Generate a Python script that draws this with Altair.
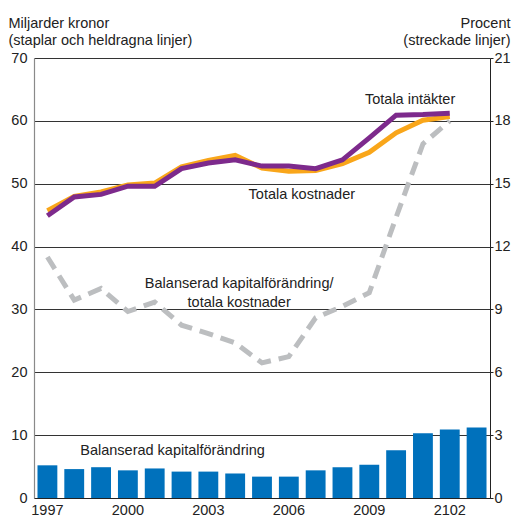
import altair as alt
import pandas as pd

years = [str(y) for y in range(1997, 2014)]
kapital = [5.2, 4.6, 4.9, 4.4, 4.7, 4.2, 4.2, 3.9, 3.4, 3.4, 4.4, 4.9, 5.3, 7.6, 10.3, 10.9, 11.2]

line_years = years[:16]
intakter = [44.9, 47.9, 48.3, 49.6, 49.6, 52.4, 53.3, 53.8, 52.8, 52.8, 52.4, 53.8, 57.3, 60.9, 61.0, 61.2]
kostnader = [45.7, 48.0, 48.7, 49.8, 50.1, 52.7, 53.7, 54.5, 52.5, 52.0, 52.1, 53.2, 55.0, 58.1, 60.1, 60.7]
andel = [11.5, 9.45, 10.0, 8.9, 9.35, 8.25, 7.85, 7.4, 6.45, 6.75, 8.6, 9.15, 9.8, 13.4, 16.9, 18.0]

tick_years = ["1997", "2000", "2003", "2006", "2009", "2012"]
tick_texts = ["1997", "2000", "2003", "2006", "2009", "2102"]

left_ticks = [0, 10, 20, 30, 40, 50, 60, 70]
right_ticks = [0, 3, 6, 9, 12, 15, 18, 21]

ann_texts = ["Totala intäkter", "Totala kostnader",
             "Balanserad kapitalförändring/\ntotala kostnader",
             "Balanserad kapitalförändring"]
ann_years = ["2010", "2006", "2004", "2002"]
ann_values = [63.3, 48.2, 34.1, 7.5]
ann_dx = [14, 13, 4, -9]

FONT = "Liberation Sans"
TXT = "#222222"
FS = 14.5

bars_df = pd.DataFrame({"year": years, "kapital": kapital})
lines_df = pd.DataFrame({"year": line_years, "intakter": intakter,
                         "kostnader": kostnader, "andel": andel})

label_expr = "''"
for y, t in reversed(list(zip(tick_years, tick_texts))):
    label_expr = f"datum.value == '{y}' ? '{t}' : ({label_expr})"

x_enc = alt.X(
    "year:O",
    scale=alt.Scale(domain=years, paddingInner=0.26, paddingOuter=0.13),
    axis=alt.Axis(title=None, labelExpr=label_expr, labelAngle=0, ticks=False,
                  domainColor="#222222", labelPadding=5, labelFontSize=FS,
                  labelFont=FONT, labelColor=TXT, grid=False, labelFlush=False,
                  labelOverlap=False),
)

left_scale = alt.Scale(domain=[0, 70], nice=False)
right_scale = alt.Scale(domain=[0, 21], nice=False)

bars = alt.Chart(bars_df).mark_bar(color="#0071bc").encode(
    x=x_enc,
    y=alt.Y("kapital:Q", scale=left_scale,
            axis=alt.Axis(orient="left", values=left_ticks, grid=True,
                          gridColor="#333333", gridWidth=1, ticks=False,
                          domainColor="#8a8a8a", domainWidth=1.2,
                          labelPadding=7, labelFontSize=FS, labelFont=FONT,
                          labelColor=TXT,
                          title=["Miljarder kronor", "(staplar och heldragna linjer)"],
                          titleAngle=0, titleAlign="left", titleBaseline="alphabetic",
                          titleX=-26, titleY=-31, titleFont=FONT, titleFontSize=FS,
                          titleFontWeight="normal", titleColor=TXT,
                          titleLineHeight=17.5)),
)

dashed = alt.Chart(lines_df).mark_line(color="#bcbec0", strokeWidth=5,
                                       strokeDash=[14, 8]).encode(
    x=x_enc,
    y=alt.Y("andel:Q", scale=right_scale,
            axis=alt.Axis(orient="right", values=right_ticks, grid=False,
                          ticks=True, tickSize=3, tickColor="#222222",
                          domainColor="#222222", labelPadding=1,
                          labelFontSize=FS, labelFont=FONT, labelColor=TXT,
                          title=["Procent", "(streckade linjer)"],
                          titleAngle=0, titleAlign="right", titleBaseline="alphabetic",
                          titleX=20, titleY=-31, titleFont=FONT, titleFontSize=FS,
                          titleFontWeight="normal", titleColor=TXT,
                          titleLineHeight=17.5)),
)

orange = alt.Chart(lines_df).mark_line(color="#f9a61a", strokeWidth=5).encode(
    x=x_enc,
    y=alt.Y("kostnader:Q", scale=left_scale, axis=None),
)

purple = alt.Chart(lines_df).mark_line(color="#7d2a8c", strokeWidth=5).encode(
    x=x_enc,
    y=alt.Y("intakter:Q", scale=left_scale, axis=None),
)

texts = []
for t, yr, v, dx in zip(ann_texts, ann_years, ann_values, ann_dx):
    df = pd.DataFrame({"year": [yr], "v": [v], "t": [t]})
    texts.append(
        alt.Chart(df).mark_text(font=FONT, fontSize=FS, color=TXT, align="center",
                                baseline="middle", dx=dx, lineBreak="\n",
                                lineHeight=19).encode(
            x=x_enc,
            y=alt.Y("v:Q", scale=left_scale, axis=None),
            text="t:N",
        )
    )

chart = alt.layer(bars, dashed, orange, purple, *texts).resolve_scale(
    y="independent"
).properties(
    width=456, height=440,
    autosize=alt.AutoSizeParams(type="none"),
    padding={"left": 26, "top": 50, "right": 21, "bottom": 19},
).configure_view(stroke=None).configure(font=FONT)

chart.save("out.html", embed_options={"renderer": "svg", "actions": False})
